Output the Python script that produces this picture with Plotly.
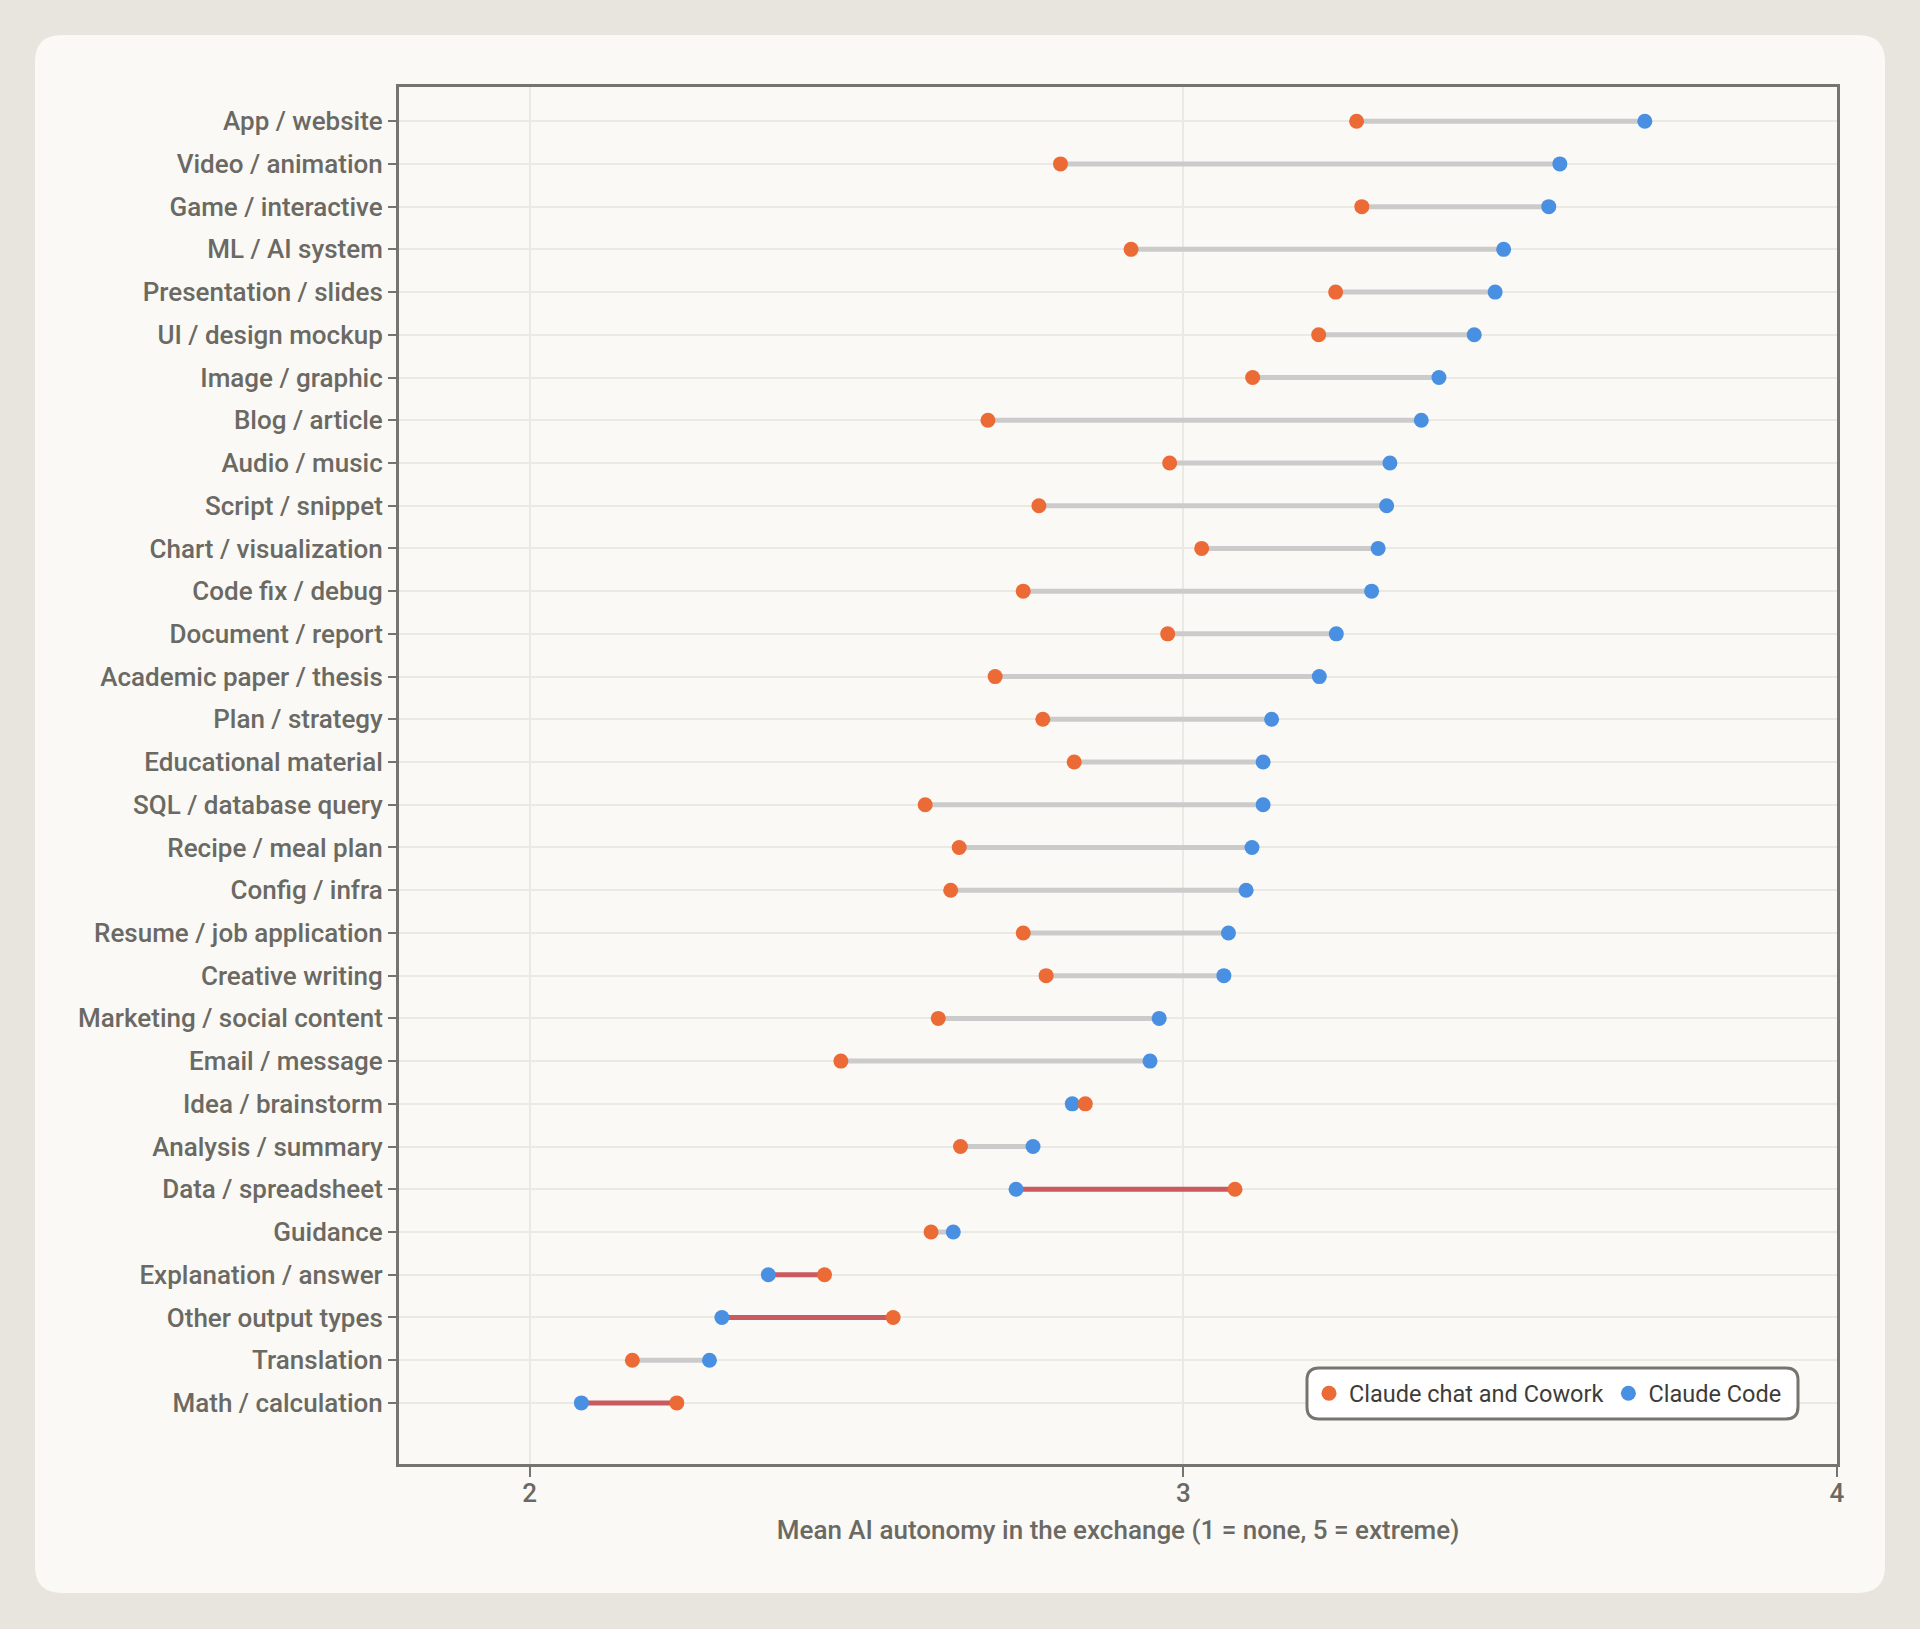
import plotly.graph_objects as go

categories = [
    "App / website", "Video / animation", "Game / interactive", "ML / AI system",
    "Presentation / slides", "UI / design mockup", "Image / graphic", "Blog / article",
    "Audio / music", "Script / snippet", "Chart / visualization", "Code fix / debug",
    "Document / report", "Academic paper / thesis", "Plan / strategy", "Educational material",
    "SQL / database query", "Recipe / meal plan", "Config / infra", "Resume / job application",
    "Creative writing", "Marketing / social content", "Email / message", "Idea / brainstorm",
    "Analysis / summary", "Data / spreadsheet", "Guidance", "Explanation / answer",
    "Other output types", "Translation", "Math / calculation",
]
chat_cowork = [
    3.265, 2.812, 3.273, 2.920, 3.233, 3.207, 3.106, 2.701,
    2.979, 2.779, 3.028, 2.755, 2.976, 2.712, 2.785, 2.833,
    2.605, 2.657, 2.644, 2.755, 2.790, 2.625, 2.476, 2.850,
    2.659, 3.079, 2.614, 2.451, 2.556, 2.157, 2.225,
]
claude_code = [
    3.706, 3.576, 3.559, 3.490, 3.477, 3.445, 3.391, 3.364,
    3.316, 3.311, 3.298, 3.288, 3.234, 3.208, 3.135, 3.122,
    3.122, 3.105, 3.096, 3.069, 3.062, 2.963, 2.949, 2.830,
    2.770, 2.744, 2.648, 2.365, 2.294, 2.275, 2.079,
]
x_ticks = [2, 3, 4]
x_title = "Mean AI autonomy in the exchange (1 = none, 5 = extreme)"
series_names = ["Claude chat and Cowork", "Claude Code"]

ORANGE = "#ec6a35"
BLUE = "#4a90e2"
GRAY_SEG = "#cbcbcb"
RED_SEG = "#c95a60"
FRAME = "#76746e"
TEXT = "#6b6963"
CARD = "#faf9f5"
OUTER = "#e8e5de"

# page adds an 8px body margin; figure is sized/offset to compensate
OFF = 8
W, H = 1920 - 2 * OFF, 1629 - 2 * OFF
ML_, MT_ = 399 - OFF, 87 - OFF
MR_ = W - (1837 - OFF)
MB_ = H - (1464 - OFF)
PW, PH = W - ML_ - MR_, H - MT_ - MB_


def px2paper(px, py):
    # px, py given in reference-page pixels
    px -= OFF
    py -= OFF
    return (px - ML_) / PW, (H - MB_ - py) / PH


def rounded_path(x0, y0, x1, y1, r):
    def P(x, y):
        a, b = px2paper(x, y)
        return f"{a:.5f},{b:.5f}"
    return (f"M{P(x0 + r, y0)} L{P(x1 - r, y0)} Q{P(x1, y0)} {P(x1, y0 + r)} "
            f"L{P(x1, y1 - r)} Q{P(x1, y1)} {P(x1 - r, y1)} "
            f"L{P(x0 + r, y1)} Q{P(x0, y1)} {P(x0, y1 - r)} "
            f"L{P(x0, y0 + r)} Q{P(x0, y0)} {P(x0 + r, y0)} Z")


gray_x, gray_y, red_x, red_y = [], [], [], []
for c, a, b in zip(categories, chat_cowork, claude_code):
    if b >= a:
        gray_x += [a, b, None]
        gray_y += [c, c, None]
    else:
        red_x += [a, b, None]
        red_y += [c, c, None]

fig = go.Figure()
fig.add_trace(go.Scatter(x=gray_x, y=gray_y, mode="lines",
                         line=dict(color=GRAY_SEG, width=5), showlegend=False,
                         hoverinfo="skip"))
fig.add_trace(go.Scatter(x=red_x, y=red_y, mode="lines",
                         line=dict(color=RED_SEG, width=5), showlegend=False,
                         hoverinfo="skip"))
fig.add_trace(go.Scatter(x=claude_code, y=categories, mode="markers", name=series_names[1],
                         marker=dict(color=BLUE, size=15), legendrank=2))
fig.add_trace(go.Scatter(x=chat_cowork, y=categories, mode="markers", name=series_names[0],
                         marker=dict(color=ORANGE, size=15), legendrank=1))

shapes = [
    dict(type="path", xref="paper", yref="paper", layer="below",
         path=rounded_path(35, 35, 1885, 1593, 27),
         fillcolor=CARD, line=dict(width=0)),
    dict(type="path", xref="paper", yref="paper", layer="above",
         path=rounded_path(1307, 1368, 1798, 1419, 12),
         fillcolor="#ffffff", line=dict(color=FRAME, width=3)),
]

lx, ly = px2paper(1787, 1393.5)

fig.update_layout(
    width=W, height=H, autosize=False,
    margin=dict(l=ML_, r=MR_, t=MT_, b=MB_),
    paper_bgcolor=OUTER, plot_bgcolor=CARD,
    font=dict(family="Roboto", color=TEXT, size=26, weight=500),
    shapes=shapes,
    showlegend=True,
    legend=dict(orientation="h", xanchor="right", yanchor="middle",
                x=lx, y=ly,
                bgcolor="rgba(0,0,0,0)", borderwidth=0,
                font=dict(size=23.5, color="#3d3c38", weight=400),
                itemwidth=30, tracegroupgap=0),
    xaxis=dict(range=[1.8, 4.0], tickvals=x_ticks, ticktext=[str(t) for t in x_ticks],
               showgrid=True, gridcolor="#ebe9e3", gridwidth=1.5,
               showline=True, linecolor=FRAME, linewidth=3, mirror=True,
               ticks="outside", ticklen=10, tickwidth=2, tickcolor=FRAME,
               ticklabelstandoff=-6,
               zeroline=False,
               title=dict(text=x_title, standoff=14, font=dict(size=26, color=TEXT))),
    yaxis=dict(type="category", categoryorder="array", categoryarray=categories,
               range=[31.43, -0.8],
               showgrid=True, gridcolor="#ebe9e3", gridwidth=1.5,
               showline=True, linecolor=FRAME, linewidth=3, mirror=True,
               ticks="outside", ticklen=8, tickwidth=2, tickcolor=FRAME,
               zeroline=False),
)

page_bg_js = (
    f"document.body.style.background='{OUTER}';"
    f"document.documentElement.style.background='{OUTER}';"
)
fig.write_html("out.html", post_script=page_bg_js)
